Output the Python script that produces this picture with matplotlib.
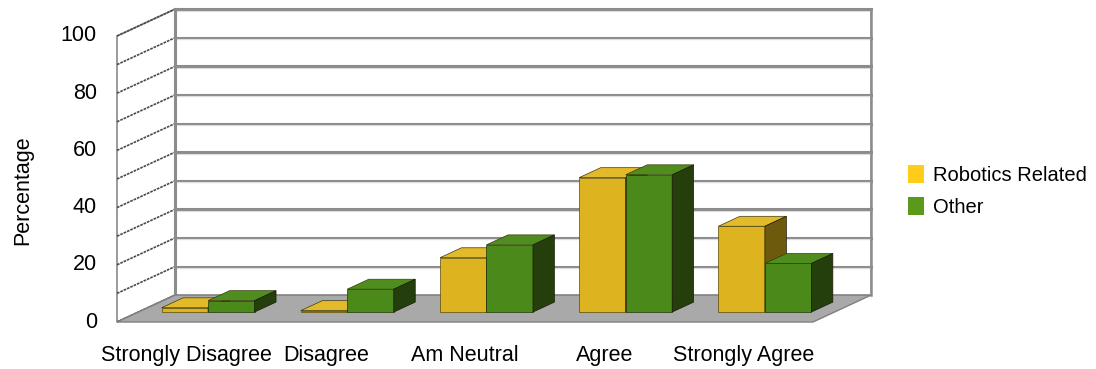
import matplotlib.pyplot as plt
from matplotlib.patches import Polygon, Patch

plt.rcParams['font.family'] = ['Liberation Sans', 'DejaVu Sans']

# ___ DATA ___
categories = ['Strongly Disagree', 'Disagree', 'Am Neutral', 'Agree', 'Strongly Agree']
robotics = [1.5, 0.5, 19, 47, 30]
other = [4, 8, 23.5, 48, 17]
series_names = ['Robotics Related', 'Other']
yticks = [0, 20, 40, 60, 80, 100]

# ___ FAKE 3D SETTINGS ___
DX, DY = 0.417, 9.4          # full depth offset in (category, value) units
D_FRONT, D_BACK = 0.37, 0.74  # bar front/back depth
BAR_W = 0.334
YMAX = 100
FS = 15.5

face = {'front': ['#DDB420', '#4C891B'],
        'top': ['#E2BA2A', '#4F8E1E'],
        'side': ['#6E5A0C', '#243F0C'],
        'legend': ['#FFCC1A', '#5A9A1A']}


def shift(x, y, d):
    return (x + d * DX, y + d * DY)


fig = plt.figure(figsize=(10.96, 3.69), dpi=100)
ax = fig.add_axes([0, 0, 1, 1])
ax.set_xlim(-117 / 139.2, (1096 - 117) / 139.2)
ax.set_ylim(-(369 - 322) / 2.86, 322 / 2.86)
ax.axis('off')

n = len(categories)

# walls and floor
back = [shift(0, 0, 1), shift(n, 0, 1), shift(n, YMAX, 1), shift(0, YMAX, 1)]
ax.add_patch(Polygon(back, closed=True, facecolor='white', edgecolor='#a8a8a8', lw=1.2, zorder=1))
left = [(0, 0), shift(0, 0, 1), shift(0, YMAX, 1), (0, YMAX)]
ax.add_patch(Polygon(left, closed=True, facecolor='white', edgecolor='#8a8a8a', lw=1.2, zorder=1))
floor = [(0, 0), (n, 0), shift(n, 0, 1), shift(0, 0, 1)]
ax.add_patch(Polygon(floor, closed=True, facecolor='#a9a9a9', edgecolor='#808080', lw=1.0, zorder=2))

for v in range(10, YMAX + 1, 10):
    p0, p1 = shift(0, v, 1), shift(n, v, 1)
    ax.plot([p0[0], p1[0]], [p0[1], p1[1]], color='#8c8c8c', lw=2.2, zorder=1.5)
    ax.plot([p0[0], p1[0]], [p0[1] - 0.55, p1[1] - 0.55], color='#dddddd', lw=0.8, zorder=1.5)
for v in range(0, YMAX + 1, 10):
    p1 = shift(0, v, 1)
    ax.plot([0, p1[0]], [v, p1[1]], color='#4a4a4a', lw=1.2, ls=(0, (1.6, 0.6)), zorder=1.6)
pb0, pb1 = shift(0, 0, 1), shift(0, YMAX, 1)
ax.plot([pb0[0], pb1[0]], [pb0[1], pb1[1]], color='#8c8c8c', lw=2.2, zorder=1.7)
pr0, pr1 = shift(n, 0, 1), shift(n, YMAX, 1)
ax.plot([pr0[0], pr1[0]], [pr0[1], pr1[1]], color='#8c8c8c', lw=1.8, zorder=1.7)

# bars
for k, values in enumerate([robotics, other]):
    for i, v in enumerate(values):
        x0 = i + 0.5 - BAR_W + k * BAR_W
        ax.bar(x0 + D_FRONT * DX, v, BAR_W, bottom=D_FRONT * DY, align='edge',
               color=face['front'][k], edgecolor='#5a4a08' if k == 0 else '#1f350a',
               lw=0.5, zorder=3 + i + k * 0.5)
        top = [shift(x0, v, D_FRONT), shift(x0 + BAR_W, v, D_FRONT),
               shift(x0 + BAR_W, v, D_BACK), shift(x0, v, D_BACK)]
        ax.add_patch(Polygon(top, closed=True, facecolor=face['top'][k],
                             edgecolor='#3a3a10', lw=0.5, zorder=3 + i + k * 0.5))
        side = [shift(x0 + BAR_W, 0, D_FRONT), shift(x0 + BAR_W, 0, D_BACK),
                shift(x0 + BAR_W, v, D_BACK), shift(x0 + BAR_W, v, D_FRONT)]
        ax.add_patch(Polygon(side, closed=True, facecolor=face['side'][k],
                             edgecolor='#1a1a08', lw=0.5, zorder=3 + i + k * 0.5))

# labels
for t in yticks:
    ax.text(-0.144, t, str(t), ha='right', va='center', fontsize=FS)
for i, c in enumerate(categories):
    ax.text(i + 0.5, -11.8, c, ha='center', va='center', fontsize=FS)
ax.text(-0.68, 46, 'Percentage', rotation=90, ha='center', va='center', fontsize=FS)

handles = [Patch(facecolor=face['legend'][k], edgecolor='none', label=series_names[k]) for k in range(2)]
ax.legend(handles=handles, loc='center left', bbox_to_anchor=(898 / 1096, 1 - 191 / 369),
          frameon=False, fontsize=FS - 1, handlelength=0.8, handleheight=1.0,
          handletextpad=0.45, labelspacing=0.6, borderpad=0)

fig.savefig('out.png', dpi=100)
